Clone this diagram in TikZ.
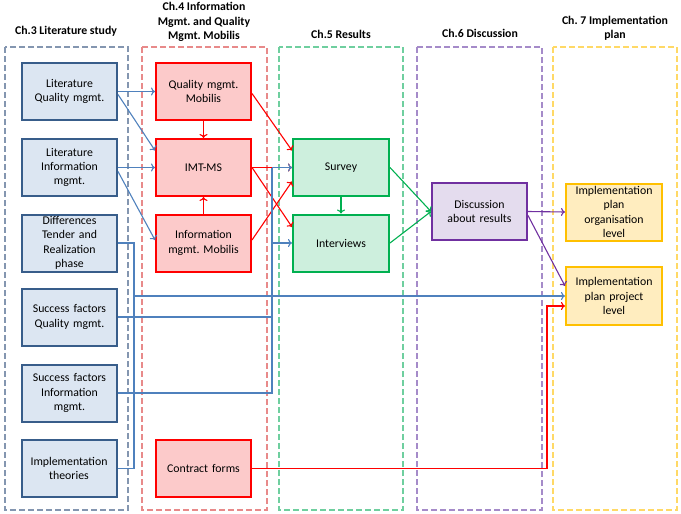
\documentclass[tikz,border=0pt]{standalone}
\usepackage{fontspec}
\setmainfont{Carlito}
\frenchspacing
\usetikzlibrary{arrows.meta,calc}
\definecolor{bbord}{HTML}{385D8A}
\definecolor{bfill}{HTML}{DCE6F2}
\definecolor{rbord}{HTML}{FF0000}
\definecolor{rfill}{HTML}{FCCACA}
\definecolor{gbord}{HTML}{00B050}
\definecolor{gfill}{HTML}{CDEFDD}
\definecolor{pbord}{HTML}{7030A0}
\definecolor{pfill}{HTML}{E4DCEE}
\definecolor{ybord}{HTML}{FFC000}
\definecolor{yfill}{HTML}{FFEDBF}
\definecolor{bline}{HTML}{4F81BD}
\definecolor{fthree}{HTML}{8496B0}
\definecolor{ffour}{HTML}{E88A8A}
\definecolor{ffive}{HTML}{6FCF9F}
\definecolor{fsix}{HTML}{A58BC9}
\definecolor{fseven}{HTML}{FFD966}
\begin{document}
\frenchspacing
\begin{tikzpicture}[x=1pt,y=-1pt,
  font=\fontsize{11.8}{14.4}\selectfont,
  box/.style={draw, line width=2pt, minimum width=95pt, minimum height=57pt,
    align=center, text width=90pt, inner sep=0pt},
  bluebox/.style={box, draw=bbord, fill=bfill},
  redbox/.style={box, draw=rbord, fill=rfill},
  greenbox/.style={box, draw=gbord, fill=gfill},
  purplebox/.style={box, draw=pbord, fill=pfill},
  yellowbox/.style={box, draw=ybord, fill=yfill},
  frame/.style={dash pattern=on 6pt off 3pt, line width=1.3pt},
  title/.style={font=\fontsize{11.8}{14.4}\selectfont\bfseries, align=center},
  conn/.style={line width=1.1pt, -{To[length=4pt,width=8pt]}},
  bconn/.style={conn, draw=bline},
  bplain/.style={line width=1.1pt, draw=bline},
  rconn/.style={conn, draw=rbord},
  rplain/.style={line width=1.1pt, draw=rbord},
  gconn/.style={conn, draw=gbord},
  pconn/.style={conn, draw=pbord},
]
\useasboundingbox (0,0) rectangle (681,514);
% frames
\draw[frame, draw=fthree] (5,47) rectangle (128,510);
\draw[frame, draw=ffour] (142,47) rectangle (267,510);
\draw[frame, draw=ffive] (279,47) rectangle (403,510);
\draw[frame, draw=fsix] (417,47) rectangle (542,510);
\draw[frame, draw=fseven] (553,47) rectangle (677,510);
% titles
\node[title] (t3) at (66,31) {Ch.3 Literature study};
\node[title] (t4) at (204,22) {Ch.4 Information\\Mgmt. and Quality\\Mgmt. Mobilis};
\node[title] (t5) at (341,34) {Ch.5 Results};
\node[title] (t6) at (480,33) {Ch.6 Discussion};
\node[title] (t7) at (615,28) {Ch. 7 Implementation\\plan};
% Ch.3
\node[bluebox] (LitQ) at (69.5,91.5) {Literature\\Quality mgmt.};
\node[bluebox] (LitI) at (69.5,167.5) {Literature\\Information\\mgmt.};
\node[bluebox] (Diff) at (69.5,243) {Differences\\Tender and\\Realization\\phase};
\node[bluebox] (SFQ) at (69.5,317) {Success factors\\Quality mgmt.};
\node[bluebox] (SFI) at (69.5,393) {Success factors\\Information\\mgmt.};
\node[bluebox] (ImpT) at (69,468.5) {Implementation\\theories};
% Ch.4
\node[redbox] (QMob) at (203.5,91.5) {Quality mgmt.\\Mobilis};
\node[redbox] (IMT) at (203.5,167.5) {IMT-MS};
\node[redbox] (IMob) at (203.5,243) {Information\\mgmt. Mobilis};
\node[redbox] (Contract) at (203.5,468.5) {Contract forms};
% Ch.5
\node[greenbox, minimum width=96pt] (Survey) at (341,167.5) {Survey};
\node[greenbox, minimum width=96pt] (Interviews) at (341,243) {Interviews};
% Ch.6
\node[purplebox] (Disc) at (479.5,211.5) {Discussion\\about results};
% Ch.7
\node[yellowbox, minimum width=96pt] (Org) at (614,212) {Implementation\\plan\\organisation\\level};
\node[yellowbox, minimum width=96pt, minimum height=58pt] (Proj) at (614,296) {Implementation\\plan project\\level};
% junction coordinates
\coordinate (bj) at (134,296);
\coordinate (sj) at (272,167.5);
\coordinate (rj) at (547,468.5);
% blue connectors
\draw[bconn] (LitQ.east) -- (QMob.west);
\draw[bconn] ($(LitQ.east)+(0,3)$) -- ($(IMT.west)+(0,-17)$);
\draw[bconn] (LitI.east) -- (IMT.west);
\draw[bconn] ($(LitI.east)+(0,4)$) -- ($(IMob.west)+(0,-3)$);
% red connectors
\draw[rconn] ($(QMob.east)+(0,2)$) -- ($(Survey.west)+(0,-17)$);
\draw[rconn] (IMT.east) -- (Survey.west);
\draw[rconn] (IMT.east) -- ($(Interviews.west)+(0,-16)$);
\draw[rconn] ($(IMob.east)+(0,-3)$) -- ($(Survey.west)+(0,14)$);
\draw[rconn] (QMob.south) -- (IMT.north);
\draw[rconn] (IMob.north) -- (IMT.south);
\draw[rplain] (Contract.east) -- (rj);
\draw[rconn] (rj) |- ($(Proj.west)+(0,10)$);
% blue elbow connectors
\draw[bplain] (Diff.east) -| (bj);
\draw[bplain] (ImpT.east) -| (bj);
\draw[bconn] (bj) -- (Proj.west);
\draw[bplain] (SFQ.east) -| (sj);
\draw[bplain] (SFI.east) -| (sj);
\draw[bconn] (sj) -- (Survey.west);
\draw[bconn] (sj |- Interviews.west) -- (Interviews.west);
% green connectors
\draw[gconn] (Survey.south) -- (Interviews.north);
\draw[gconn] (Survey.east) -- (Disc.west);
\draw[gconn] (Interviews.east) -- (Disc.west);
% purple connectors
\draw[pconn] (Disc.east) -- (Org.west);
\draw[pconn] ($(Disc.east)+(0,4)$) -- ($(Proj.west)+(0,-10)$);
\end{tikzpicture}
\end{document}
